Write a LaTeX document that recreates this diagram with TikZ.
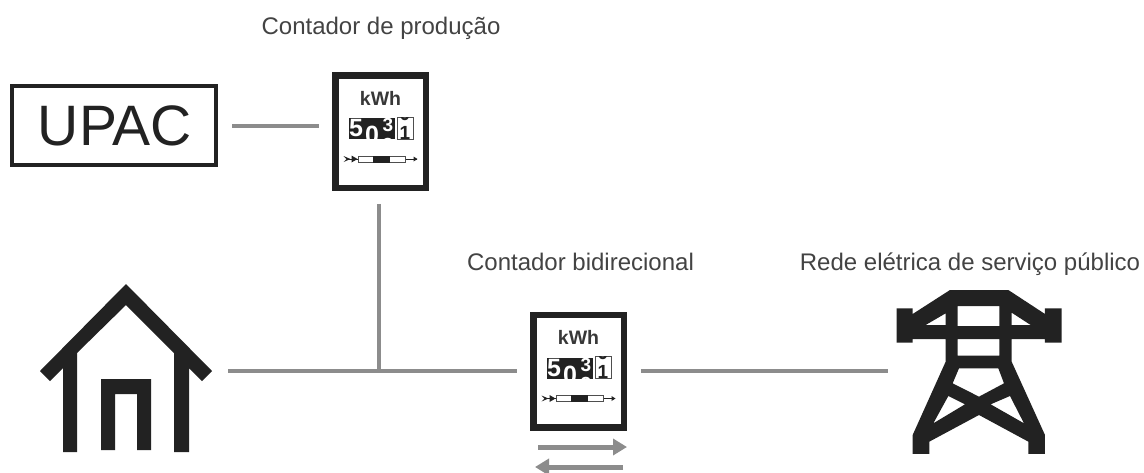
\documentclass[tikz,border=0pt]{standalone}
\usepackage{fontspec}
\setmainfont{Liberation Sans}
\usetikzlibrary{arrows.meta}
\definecolor{ink}{HTML}{222222}
\definecolor{wire}{HTML}{8C8C8C}
\tikzset{
  wirel/.style={draw=wire,line width=4pt},
  flow/.style={draw=wire,line width=5pt,-{Triangle[length=14pt,width=16pt]}},
  label/.style={inner sep=0pt,outer sep=0pt,anchor=base,text=ink!85!white,font=\fontsize{24}{26}\selectfont},
  box/.style={draw=ink,line width=4.5pt,fill=white,inner sep=0pt,outer sep=0pt},
  ghost/.style={inner sep=0pt,outer sep=0pt},
  digit/.style={inner sep=0pt,outer sep=0pt,font=\fontsize{25}{25}\selectfont\bfseries},
  smalldigit/.style={inner sep=0pt,outer sep=0pt,font=\fontsize{19}{19}\selectfont\bfseries},
  meter/.pic={
    \node[box,line width=6.5pt,minimum width=90.5pt,minimum height=112.5pt] (-box) at (0,0) {};
    \node[ghost,text=ink!90!white,font=\fontsize{19.5}{21}\selectfont\bfseries] (-unit) at (0,-33.5) {kWh};
    \fill[ink] (-31.5,-13.5) rectangle (14.5,7.5);
    \draw[ink!80!white,line width=1pt,fill=white] (16.5,-14.5) rectangle (32.5,7.5);
    \begin{scope}
      \clip (-31.5,-13.5) rectangle (14.5,7.5);
      \node[digit,text=white] (-d1) at (-24.5,-3) {5};
      \node[digit,text=white] (-d2) at (-8.5,3.5) {0};
      \node[smalldigit,text=white] (-d3) at (7.5,-6.5) {3};
      \node[smalldigit,text=white] (-d3b) at (7.5,13) {3};
    \end{scope}
    \begin{scope}
      \clip (16.5,-14.5) rectangle (32.5,7.5);
      \node[smalldigit,text=ink] (-d4) at (24.5,1) {1};
      \node[smalldigit,text=ink] (-d5) at (24.5,-18) {0};
    \end{scope}
    \draw[ink,line width=1pt] (-32,27.5) -- (36,27.5);
    \fill[ink] (-37,24.5) -- (-30,27.5) -- (-37,30.5) -- (-34,27.5) -- cycle;
    \fill[ink] (-29,24) -- (-23,27.5) -- (-29,31) -- cycle;
    \fill[ink] (33,25) -- (37,27.5) -- (33,30) -- cycle;
    \draw[ink!80!white,line width=1pt,fill=white] (-22.5,24.5) rectangle (24.5,30.5);
    \fill[ink] (-7.5,24) rectangle (9.5,31);
  }
}
\begin{document}
\begin{tikzpicture}[x=1pt,y=-1pt]
\useasboundingbox[fill=white] (0,0) rectangle (1144,472);

% Labels
\node[label] (lprod) at (381,34) {Contador de produção};
\node[label] (lbid) at (580.5,270) {Contador bidirecional};
\node[label] (lrede) at (970,270) {Rede elétrica de serviço público};

% UPAC
\node[box,minimum width=204pt,minimum height=79pt,text=ink] (upac) at (114,125.5) {};
\node[ghost,font=\fontsize{57}{57}\selectfont,text=ink] (upactext) at (115,125.5) {UPAC};

% Meters
\pic (ma) at (380.5,131.5) {meter};
\pic (mb) at (578.5,371) {meter};

% House
\node[ghost,minimum width=172pt,minimum height=168pt] (house) at (126,371) {};
\fill[ink] (126,284) -- (212,371) -- (202,381) -- (189,368) -- (189,452) -- (174,452)
  -- (174,353) -- (126,305) -- (77,353) -- (77,452) -- (63,452) -- (63,368)
  -- (50,381) -- (40,371) -- cycle;
\fill[ink] (101,379) -- (151,379) -- (151,450) -- (137,450) -- (137,394)
  -- (115,394) -- (115,450) -- (101,450) -- cycle;

% Tower
\node[ghost,minimum width=150pt,minimum height=164pt] (tower) at (972,371) {};
\begin{scope}[shift={(880,290)},x=0.3333pt,y=-0.3333pt]
\fill[ink,even odd rule]
  (210,0) -- (385,0) -- (495,72) -- (495,55) -- (545,55) -- (545,158) -- (495,158)
  -- (495,147) -- (395,147) -- (395,215) -- (495,435) -- (495,492) -- (445,492)
  -- (445,455) -- (297,375) -- (148,455) -- (148,492) -- (98,492) -- (98,435)
  -- (197,215) -- (197,147) -- (98,147) -- (98,158) -- (50,158) -- (50,55)
  -- (98,55) -- (98,72) -- cycle
  (137,105) -- (197,70) -- (197,105) -- cycle
  (233,48) -- (358,48) -- (358,108) -- (233,108) -- cycle
  (395,68) -- (452,105) -- (395,105) -- cycle
  (233,147) -- (358,147) -- (358,197) -- (233,197) -- cycle
  (237,235) -- (355,235) -- (372,280) -- (297,320) -- (218,280) -- cycle
  (205,318) -- (255,343) -- (160,400) -- cycle
  (390,318) -- (432,400) -- (332,343) -- cycle;
\end{scope}

% Connectors
\coordinate (junction) at (379,371);
\draw[wirel,shorten <=16pt,shorten >=16pt] (upac.east) -- (upac.east -| ma-box.west);
\draw[wirel,shorten <=16pt] (junction |- ma-box.south) -- (junction);
\draw[wirel,shorten <=16pt,shorten >=16pt] (house.east) -- (mb-box.west);
\draw[wirel,shorten <=17pt,shorten >=9pt] (mb-box.east) -- (tower.west);

% Flow arrows
\coordinate (fa1) at (538,447);
\coordinate (fa2) at (627,447);
\coordinate (fb1) at (623,467);
\coordinate (fb2) at (535,467);
\draw[flow] (fa1) -- (fa2);
\draw[flow] (fb1) -- (fb2);
\end{tikzpicture}
\end{document}
